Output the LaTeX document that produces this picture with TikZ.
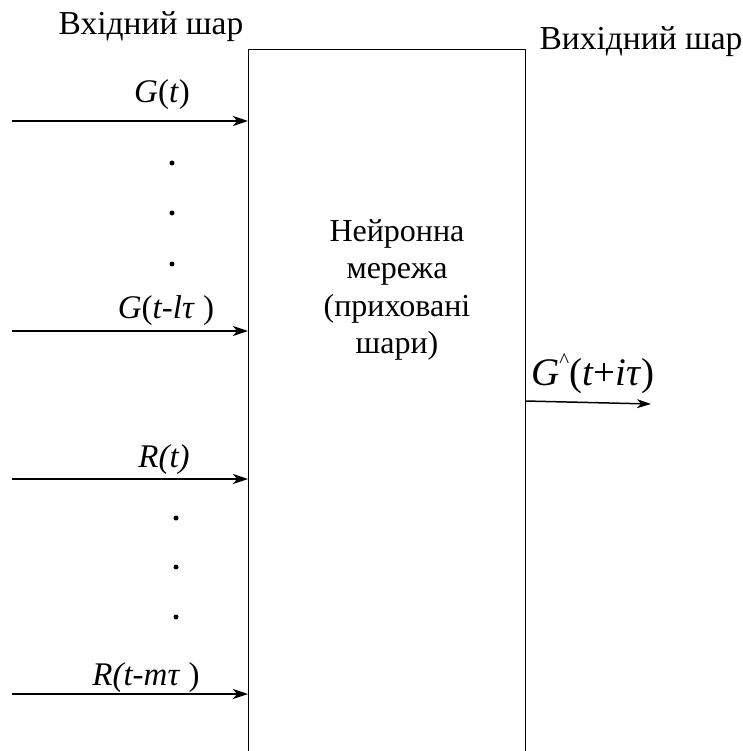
\documentclass[tikz,border=0pt]{standalone}
\usepackage{fontspec}
\setmainfont{Liberation Serif}
\usetikzlibrary{arrows.meta,positioning}
\tikzset{
  inarrow/.style={line width=1.8pt,-{Stealth[length=15pt,width=10pt,inset=4pt]}},
  outarrow/.style={line width=1.5pt,-{Stealth[length=14pt,width=9pt,inset=4pt]}},
  sigtext/.style={inner sep=0pt,anchor=base,font=\fontsize{33}{36}\selectfont},
  titletext/.style={inner sep=0pt,anchor=base,font=\fontsize{33.5}{36}\selectfont},
}
\begin{document}
\begin{tikzpicture}[x=1pt,y=-1pt]
\useasboundingbox (0,0) rectangle (742,751);
% network box, open at the bottom
\coordinate (boxbl) at (248,760);
\coordinate (boxtl) at (248,49);
\coordinate (boxtr) at (525,49);
\coordinate (boxbr) at (525,760);
\draw[line width=0.9pt] (boxbl) -- (boxtl) -- (boxtr) -- (boxbr);
\node[align=center,inner sep=0pt,font=\fontsize{32}{37.5}\selectfont] (net) at (397,290)
  {Нейронна\\мережа\\(приховані\\шари)};
% layer titles
\node[titletext] (intitle) at (151,35) {Вхідний шар};
\node[titletext] (outtitle) at (641,50) {Вихідний шар};
% inputs
\coordinate (g0) at (12,121);
\coordinate (gl) at (12,331);
\coordinate (r0) at (12,479);
\coordinate (rm) at (12,694);
\foreach \c in {g0,gl,r0,rm}
  \draw[inarrow] (\c) -- (\c -| boxtl);
\node[sigtext] (g0text) at (162,103) {\textit{G}(\textit{t})};
\node[sigtext] (gltext) at (166,318) {\textit{G}(\textit{t-lτ} )};
\node[sigtext] (r0text) at (164,467) {\textit{R(t)}};
\node[sigtext] (rmtext) at (146,685) {\textit{R(t-mτ} )};
% dots
\foreach \y in {163,213,264}
  \fill (172,\y) circle (2.5pt);
\foreach \y in {518,567,617}
  \fill (176,\y) circle (2.5pt);
% output
\coordinate (gout) at (525,401);
\coordinate (goutend) at (651,404);
\draw[outarrow] (gout) -- (goutend);
\node[sigtext,anchor=base west,font=\fontsize{39}{42}\selectfont] (gouttext) at (531,385)
  {\textit{G}\raisebox{0.45em}{\fontsize{21}{23}\selectfont\textasciicircum}(\textit{t}+\textit{iτ})};
\end{tikzpicture}
\end{document}
